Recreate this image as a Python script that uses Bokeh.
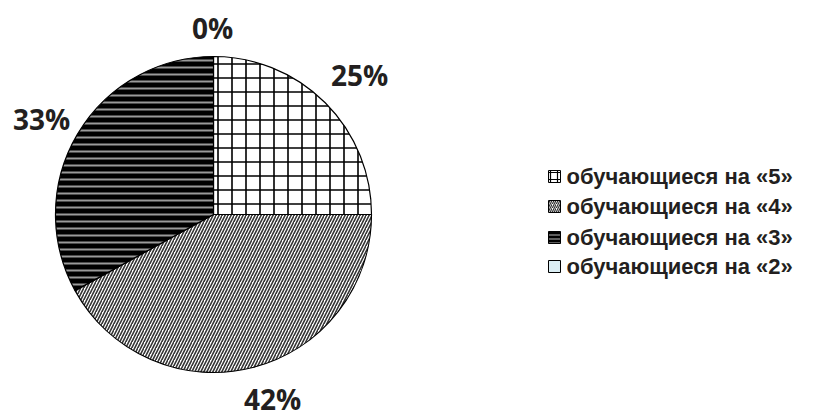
import math
from bokeh.plotting import figure
from bokeh.models import Range1d
from bokeh.core.properties import value
from bokeh.embed import file_html
from bokeh.resources import INLINE

# data
categories = ["обучающиеся на «5»", "обучающиеся на «4»", "обучающиеся на «3»", "обучающиеся на «2»"]
shares = [25, 42, 33, 0]
pct_labels = ["25%", "42%", "33%", "0%"]

W, H = 821, 416
p = figure(width=W, height=H, x_range=Range1d(0, W), y_range=Range1d(0, H),
           output_backend="svg", toolbar_location=None, min_border=0)
p.axis.visible = False
p.grid.visible = False
p.outline_line_color = None
p.background_fill_color = "white"
p.border_fill_color = "white"

cx, cy, r = 213, H - 214, 158

fills = ["white", "white", "black", "#dbeef4"]
hatches = ["+", "/", "-", " "]
hcolors = ["black", "#333333", "#9a9a9a", "black"]
hscales = [14, 6, 7, 1]
hweights = [1.6, 1.6, 2.0, 1]

total = sum(shares)
cum = 0.0
starts, ends = [], []
for s in shares:
    a0 = math.pi / 2 - cum / total * 2 * math.pi
    cum += s
    a1 = math.pi / 2 - cum / total * 2 * math.pi
    starts.append(a0)
    ends.append(a1)

for i in range(len(shares)):
    if shares[i] == 0:
        continue
    p.wedge(x=cx, y=cy, radius=r, start_angle=starts[i], end_angle=ends[i],
            direction="clock", fill_color=fills[i], line_color="black", line_width=1.2,
            hatch_pattern=hatches[i], hatch_color=hcolors[i], hatch_scale=hscales[i],
            hatch_weight=hweights[i])

# percentage labels (placed around the pie)
lab_x = [359, 272, 41, 212]
lab_y = [H - 74, H - 398, H - 118, H - 27]
p.text(x=lab_x, y=lab_y, text=pct_labels, text_font=value("Open Sans"), text_font_style="bold",
       text_font_size="28px", text_align="center", text_baseline="middle", text_color="#231f20")

# legend
leg_y = [H - 176, H - 206, H - 237, H - 266]
leg_hs = [7, 4, 4, 1]
for i in range(len(categories)):
    p.rect(x=554, y=leg_y[i], width=12, height=12, fill_color=fills[i], line_color="black",
           line_width=1, hatch_pattern=hatches[i], hatch_color=hcolors[i],
           hatch_scale=leg_hs[i], hatch_weight=1.2)
p.text(x=[566] * 4, y=leg_y, text=categories, text_font=value("Liberation Sans"),
       text_font_style="bold", text_font_size="22px", text_align="left",
       text_baseline="middle", text_color="#231f20")

open("out.html", "w").write(file_html(p, INLINE))
